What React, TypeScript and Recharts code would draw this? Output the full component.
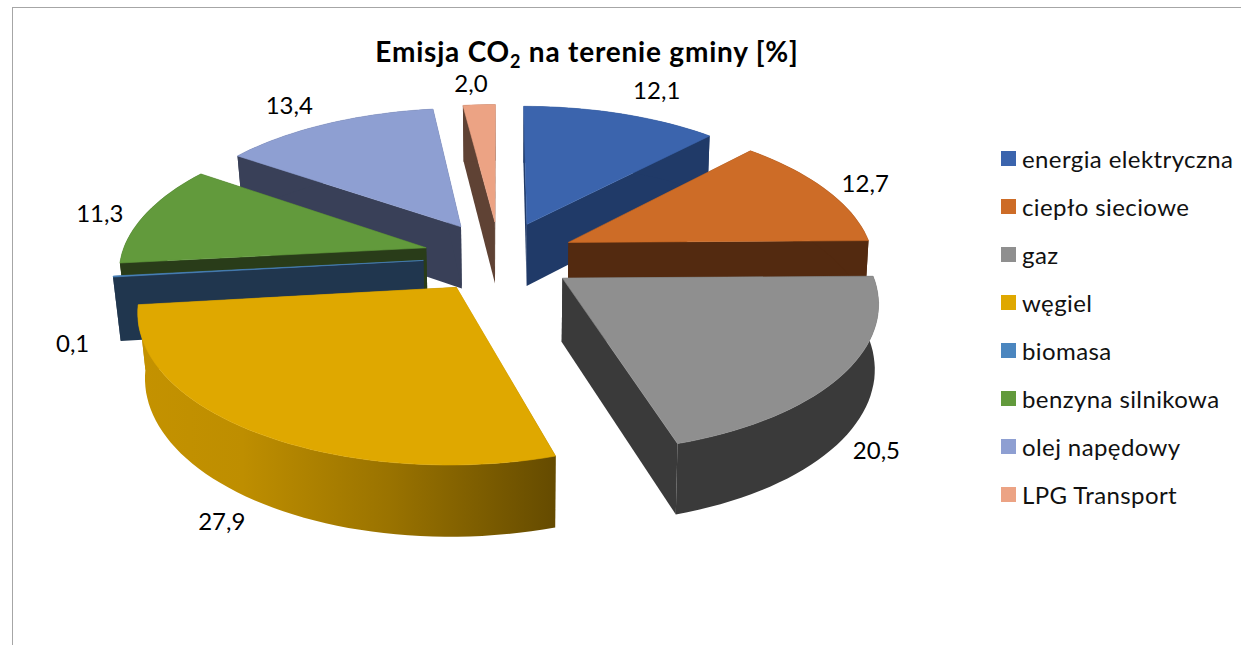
import React from "react";
import { PieChart, Pie, Legend } from "recharts";

const names = ["energia elektryczna", "ciepło sieciowe", "gaz", "węgiel", "biomasa", "benzyna silnikowa", "olej napędowy", "LPG Transport"];
const values = [12.1, 12.7, 20.5, 27.9, 0.1, 11.3, 13.4, 2.0];
const topColors = ["#3B64AD", "#CD6C27", "#8F8F8F", "#DFA800", "#4B86BF", "#629A3C", "#8E9FD2", "#ECA384"];
const wallColors = ["#203A68", "#532A10", "#3A3A3A", "url(#coalWall)", "#20364E", "#293C19", "#394058", "#5F4234"];
const drawOrder = ["LPG Transport", "energia elektryczna", "olej napędowy", "ciepło sieciowe", "benzyna silnikowa", "biomasa", "gaz", "węgiel"];
const labelShift: [number, number][] = [[7.5, 9], [-44.5, 10], [-77.5, 37], [52.5, 28], [70.5, 60], [48.5, 9], [2.5, 12], [-3.5, 12]];

const data = names.map((name, i) => ({ name, value: values[i], top: topColors[i], wall: wallColors[i], idx: i }));

const FONT = "Lato, Carlito, sans-serif";
const TILT = 0.469;
const PERSP = 0.141;
const EXPLODE = 0.25;
const DEPTH = 63;

type P = [number, number];
function project(cx: number, cy: number, rx: number, du: number, dv: number): P {
  const s = 1 / (1 - PERSP * dv);
  return [cx + rx * du * s, cy + rx * TILT * dv * s];
}
function drop(cx: number, p: P, dv: number): P {
  const s = 1 / (1 - PERSP * dv);
  const shrink = p[0] < cx ? 0.98 : 0.99;
  return [cx + (p[0] - cx) * shrink, p[1] + DEPTH * Math.pow(s, 0.7)];
}
const path = (pts: P[]) => "M" + pts.map((p) => p[0].toFixed(1) + "," + p[1].toFixed(1)).join("L") + "Z";

function Slice3D(props: any, only: string) {
  const { cx, cy, outerRadius, startAngle, endAngle, payload, name } = props;
  const nm = payload?.name ?? name;
  if (nm !== only) return <g />;
  const a0 = ((90 - startAngle) * Math.PI) / 180;
  const a1 = ((90 - endAngle) * Math.PI) / 180;
  const mid = (a0 + a1) / 2;
  const ex = EXPLODE * Math.sin(mid);
  const ey = -EXPLODE * Math.cos(mid);
  const steps = Math.max(2, Math.ceil(((a1 - a0) * 180) / Math.PI / 2));
  const disc: [number, number][] = [];
  for (let i = 0; i <= steps; i++) {
    const a = a0 + ((a1 - a0) * i) / steps;
    disc.push([ex + Math.sin(a), ey - Math.cos(a)]);
  }
  const topArc = disc.map((d) => project(cx, cy, outerRadius, d[0], d[1]));
  const botArc = disc.map((d, i) => drop(cx, topArc[i], d[1]));
  const apex = project(cx, cy, outerRadius, ex, ey);
  const apexB = drop(cx, apex, ey);
  const last = topArc.length - 1;
  const fill = payload?.top;
  const wall = payload?.wall;
  return (
    <g>
      <path d={path([apex, topArc[0], botArc[0], apexB])} fill={wall} />
      <path d={path([apex, topArc[last], botArc[last], apexB])} fill={wall} />
      <path d={path([...topArc, ...botArc.slice().reverse()])} fill={wall} />
      <path d={path([apex, ...topArc])} fill={fill} stroke={fill} strokeWidth={0.6} />
    </g>
  );
}

function valueLabel(props: any) {
  const { cx, cy, outerRadius, midAngle, index } = props;
  const a = ((90 - midAngle) * Math.PI) / 180;
  const r = 1.6;
  const p = project(cx, cy, outerRadius, r * Math.sin(a), -r * Math.cos(a));
  const sh = labelShift[index];
  return (
    <text key={index} x={p[0] + sh[0]} y={p[1] + sh[1]} textAnchor="middle" dominantBaseline="central" fontFamily={FONT} fontSize={24} fill="#000">
      {values[index].toFixed(1).replace(".", ",")}
    </text>
  );
}

function LegendList() {
  return (
    <div style={{ fontFamily: FONT, fontSize: 24, color: "#111", letterSpacing: 0.4 }}>
      {names.map((n, i) => (
        <div key={n} style={{ height: 48, display: "flex", alignItems: "center" }}>
          <span style={{ width: 15, height: 15, background: topColors[i], marginRight: 6, flex: "none" }} />
          <span style={{ whiteSpace: "nowrap" }}>{n}</span>
        </div>
      ))}
    </div>
  );
}

const pieProps = {
  data,
  dataKey: "value",
  nameKey: "name",
  cx: 499.5,
  cy: 256.5,
  outerRadius: 305,
  startAngle: 90,
  endAngle: -270,
  isAnimationActive: false,
  stroke: "none",
  legendType: "none" as const,
};

export default function App() {
  return (
    <div style={{ position: "absolute", left: 0, top: 0, width: 1241, height: 645, overflow: "hidden", background: "#fff" }}>
      <div style={{ position: "absolute", left: 12, top: 7, right: 0, bottom: 0, borderLeft: "1.5px solid #a6a6a6", borderTop: "1.5px solid #a6a6a6" }} />
      <PieChart width={1241} height={645} margin={{ top: 0, right: 0, bottom: 0, left: 0 }} style={{ position: "absolute", left: 0, top: 0 }}>
        <defs>
          <linearGradient id="coalWall" x1="0" y1="0" x2="1" y2="0">
            <stop offset="0" stopColor="#C49200" />
            <stop offset="0.25" stopColor="#BE8E00" />
            <stop offset="0.6" stopColor="#9A7300" />
            <stop offset="1" stopColor="#654B00" />
          </linearGradient>
        </defs>
        <text x={587} y={62} textAnchor="middle" fontFamily={FONT} fontWeight={700} fontSize={28} letterSpacing={0.8} fill="#000">
          Emisja CO<tspan fontSize={18} dy={6}>2</tspan><tspan dy={-6}> na terenie gminy [%]</tspan>
        </text>
        {drawOrder.map((only) => {
          const render = (p: any) => Slice3D(p, only);
          return <Pie key={only} {...pieProps} shape={render} activeShape={render} inactiveShape={render} />;
        })}
        <Pie {...pieProps} fill="none" shape={() => <g />} label={valueLabel} labelLine={false} />
        <Legend layout="vertical" align="right" verticalAlign="top" content={<LegendList />} wrapperStyle={{ position: "absolute", left: 1001, top: 134, width: 240 }} />
      </PieChart>
    </div>
  );
}
